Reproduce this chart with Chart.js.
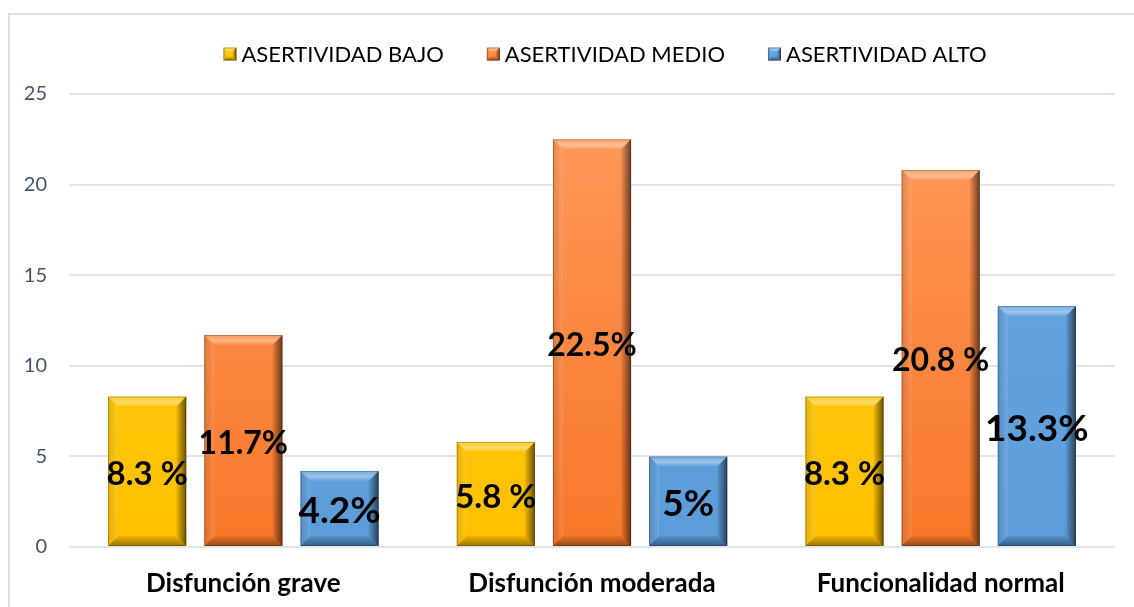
<!DOCTYPE html>
<html>
<head>
<meta charset="utf-8">
<script src="https://cdn.jsdelivr.net/npm/chart.js@4.4.1/dist/chart.umd.min.js"></script>
<style>
  html, body { margin: 0; padding: 0; background: #ffffff; }
  #wrap { position: relative; width: 1134px; height: 607px; }
</style>
</head>
<body>
<div id="wrap"><canvas id="c" width="1134" height="607"></canvas></div>
<script>
// ---- data ----
const categories = ['Disfunción grave', 'Disfunción moderada', 'Funcionalidad normal'];
const seriesNames = ['ASERTIVIDAD BAJO', 'ASERTIVIDAD MEDIO', 'ASERTIVIDAD ALTO'];
const bajoValues = [8.3, 5.8, 8.3];
const medioValues = [11.7, 22.5, 20.8];
const altoValues = [4.2, 5, 13.3];
const bajoLabels = ['8.3 %', '5.8 %', '8.3 %'];
const medioLabels = ['11.7%', '22.5%', '20.8 %'];
const altoLabels = ['4.2%', '5%', '13.3%'];
const yTicks = [0, 5, 10, 15, 20, 25];

// ---- styles ----
const palette = [
  { top: '#FFCE1A', bottom: '#FFC000' },
  { top: '#FF9A5C', bottom: '#F7782A' },
  { top: '#6AAAE6', bottom: '#5B9BD8' }
];
const labelSizes = [33, 32, 37];
const allLabels = [bajoLabels, medioLabels, altoLabels];

function gradFill(i) {
  return function (ctx) {
    const chart = ctx.chart;
    const area = chart.chartArea;
    if (!area) return palette[i].bottom;
    const g = chart.ctx.createLinearGradient(0, area.top, 0, area.bottom);
    g.addColorStop(0, palette[i].top);
    g.addColorStop(1, palette[i].bottom);
    return g;
  };
}

function drawBevel(c, x0, y0, x1, y1, b) {
  b = Math.min(b, (x1 - x0) / 2, (y1 - y0) / 2);
  // top (light)
  c.beginPath();
  c.moveTo(x0, y0); c.lineTo(x1, y0); c.lineTo(x1 - b, y0 + b); c.lineTo(x0 + b, y0 + b); c.closePath();
  let g = c.createLinearGradient(0, y0, 0, y0 + b);
  g.addColorStop(0, 'rgba(255,255,255,0.15)');
  g.addColorStop(0.6, 'rgba(255,255,255,0.38)');
  g.addColorStop(1, 'rgba(255,255,255,0.05)');
  c.fillStyle = g; c.fill();
  // left (slightly light)
  c.beginPath();
  c.moveTo(x0, y0); c.lineTo(x0 + b, y0 + b); c.lineTo(x0 + b, y1 - b); c.lineTo(x0, y1); c.closePath();
  g = c.createLinearGradient(x0, 0, x0 + b, 0);
  g.addColorStop(0, 'rgba(0,0,0,0.10)');
  g.addColorStop(1, 'rgba(255,255,255,0.10)');
  c.fillStyle = g; c.fill();
  // right (dark)
  c.beginPath();
  c.moveTo(x1, y0); c.lineTo(x1, y1); c.lineTo(x1 - b, y1 - b); c.lineTo(x1 - b, y0 + b); c.closePath();
  g = c.createLinearGradient(x1 - b, 0, x1, 0);
  g.addColorStop(0, 'rgba(0,0,0,0.05)');
  g.addColorStop(1, 'rgba(0,0,0,0.58)');
  c.fillStyle = g; c.fill();
  // bottom (dark)
  c.beginPath();
  c.moveTo(x0, y1); c.lineTo(x1, y1); c.lineTo(x1 - b, y1 - b); c.lineTo(x0 + b, y1 - b); c.closePath();
  g = c.createLinearGradient(0, y1 - b, 0, y1);
  g.addColorStop(0, 'rgba(0,0,0,0.05)');
  g.addColorStop(1, 'rgba(0,0,0,0.40)');
  c.fillStyle = g; c.fill();
  // outline
  c.strokeStyle = 'rgba(0,0,0,0.25)';
  c.lineWidth = 1;
  c.strokeRect(x0 + 0.5, y0 + 0.5, x1 - x0 - 1, y1 - y0 - 1);
}

const decorPlugin = {
  id: 'decor',
  beforeDraw(chart) {
    const c = chart.ctx;
    c.save();
    c.strokeStyle = '#DDE1E7';
    c.lineWidth = 2;
    c.beginPath();
    c.moveTo(9, 607); c.lineTo(9, 14); c.lineTo(1134, 14);
    c.stroke();
    c.restore();
  },
  afterDatasetsDraw(chart) {
    const c = chart.ctx;
    c.save();
    chart.data.datasets.forEach((ds, i) => {
      const meta = chart.getDatasetMeta(i);
      meta.data.forEach((bar) => {
        const x0 = bar.x - bar.width / 2, x1 = bar.x + bar.width / 2;
        drawBevel(c, x0, bar.y, x1, bar.base, 10);
      });
    });
    // data labels
    chart.data.datasets.forEach((ds, i) => {
      const meta = chart.getDatasetMeta(i);
      c.font = 'bold ' + labelSizes[i] + 'px Lato';
      c.fillStyle = '#000000';
      c.textAlign = 'center';
      c.textBaseline = 'middle';
      meta.data.forEach((bar, j) => {
        c.fillText(allLabels[i][j], bar.x, (bar.y + bar.base) / 2 + 3);
      });
    });
    // legend
    c.font = '22px Lato';
    c.textBaseline = 'middle';
    c.textAlign = 'left';
    const box = 13, gapText = 5, gapItem = 43, cy = 54;
    const widths = seriesNames.map(s => box + gapText + c.measureText(s).width);
    const total = widths.reduce((a, b) => a + b, 0) + gapItem * (widths.length - 1);
    let x = 605 - total / 2;
    seriesNames.forEach((s, i) => {
      const g = c.createLinearGradient(0, cy - box / 2, 0, cy + box / 2);
      g.addColorStop(0, palette[i].top);
      g.addColorStop(1, palette[i].bottom);
      c.fillStyle = g;
      c.fillRect(x, cy - box / 2, box, box);
      drawBevel(c, x, cy - box / 2, x + box, cy + box / 2, 4);
      c.fillStyle = '#000000';
      c.fillText(s, x + box + gapText, cy + 1);
      x += widths[i] + gapItem;
    });
    c.restore();
  }
};

const datasets = [bajoValues, medioValues, altoValues].map((vals, i) => ({
  label: seriesNames[i],
  data: vals,
  backgroundColor: gradFill(i),
  borderWidth: 0,
  categoryPercentage: 0.8276,
  barPercentage: 0.8125
}));

new Chart(document.getElementById('c'), {
  type: 'bar',
  data: { labels: categories, datasets },
  options: {
    responsive: false,
    animation: false,
    layout: { padding: { top: 94, right: 19, left: 0, bottom: 0 } },
    plugins: { legend: { display: false }, tooltip: { enabled: false } },
    scales: {
      x: {
        grid: { display: false, drawTicks: false },
        border: { display: false },
        ticks: { color: '#000000', font: { family: 'Lato', weight: 'bold', size: 26 }, padding: 21 },
        afterFit(s) { s.height = 60; }
      },
      y: {
        min: 0, max: 25,
        afterBuildTicks(s) { s.ticks = yTicks.map(v => ({ value: v })); },
        grid: { color: '#E2E5EA', lineWidth: 2, drawTicks: false },
        border: { display: false },
        ticks: { color: '#44546A', font: { family: 'Lato', size: 20 }, padding: 22 },
        afterFit(s) { s.width = 69; }
      }
    }
  },
  plugins: [decorPlugin]
});
</script>
</body>
</html>
